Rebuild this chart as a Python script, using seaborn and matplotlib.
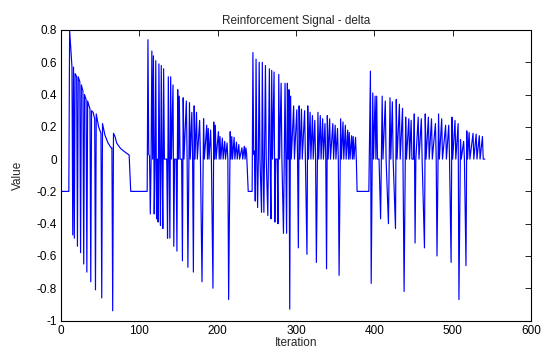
import matplotlib
matplotlib.use("Agg")
import matplotlib.pyplot as plt
import seaborn as sns
import pandas as pd

# ---- data: (iteration, delta) vertices per learning episode ----
episode1 = [(0, -0.2), (10, -0.2), (11, 0.80), (14, 0.57), (15, -0.47), (16, 0.57), (17, -0.49),
            (18, 0.53), (20, 0.51), (21, -0.54), (22, 0.51), (24, 0.48), (25, -0.58), (26, 0.46),
            (28, 0.42), (29, -0.65), (30, 0.40), (32, 0.37), (33, -0.70), (34, 0.36), (37, 0.31),
            (38, -0.76), (39, 0.30), (41, 0.29), (43, 0.25), (44, -0.81), (45, 0.28), (48, 0.20),
            (51, 0.16), (52, -0.86), (53, 0.22), (56, 0.15), (60, 0.10), (64, 0.07), (65, 0.07),
            (66, -0.94), (67, 0.16), (69, 0.14), (71, 0.10), (76, 0.066), (80, 0.05), (87, 0.025),
            (89, -0.2)]

episode2 = [(110, -0.2), (111, 0.74), (112, 0.03), (113, 0.02), (114, -0.34), (115, 0.0),
            (116, 0.67), (117, 0.0), (118, 0.64), (119, -0.34), (120, 0.0), (121, 0.61),
            (122, -0.37), (123, 0.0), (124, -0.39), (125, 0.59), (126, 0.0), (127, -0.41),
            (128, 0.58), (129, 0.0), (130, -0.43), (131, 0.56), (132, 0.0), (135, 0.0),
            (136, -0.49), (137, 0.51), (138, 0.0), (139, -0.49), (140, 0.51), (141, 0.0),
            (143, 0.46), (144, -0.54), (145, 0.0), (147, 0.0), (148, -0.57), (149, 0.43),
            (150, 0.0), (151, 0.39), (152, 0.0), (154, 0.0), (155, -0.63), (156, 0.38),
            (157, 0.0), (160, 0.36), (161, 0.0), (162, -0.67), (164, 0.35), (165, 0.0),
            (167, 0.29), (168, 0.0), (169, -0.70), (170, 0.33), (171, 0.0), (173, 0.29),
            (174, 0.0), (177, 0.24), (178, 0.0), (180, -0.76), (182, 0.25), (183, 0.0),
            (186, 0.21), (187, 0.0), (188, 0.19), (189, 0.0), (191, 0.18), (192, 0.0),
            (194, -0.80), (195, 0.23), (196, 0.0), (197, 0.21), (198, 0.0), (201, 0.17),
            (202, 0.0), (203, 0.14), (204, 0.0), (206, 0.13), (207, 0.0), (209, 0.11),
            (210, 0.0), (212, 0.10), (213, 0.0), (214, -0.87), (216, 0.17), (217, 0.0),
            (218, 0.14), (219, 0.0), (221, 0.135), (222, 0.0), (224, 0.105), (225, 0.0),
            (227, 0.09), (228, 0.0), (231, 0.07), (232, 0.0), (234, 0.08), (235, 0.0),
            (236, 0.07), (237, 0.03), (239, -0.2)]

episode3 = [(244, -0.2), (245, 0.66), (246, 0.03), (247, 0.05), (248, -0.26), (249, 0.62),
            (250, 0.0), (251, -0.30), (252, 0.03), (253, 0.60), (254, 0.0), (256, -0.33),
            (257, 0.60), (258, 0.0), (259, -0.33), (261, 0.58), (262, 0.0), (264, -0.35),
            (266, 0.56), (267, 0.0), (268, -0.37), (269, 0.55), (270, 0.0), (272, 0.54),
            (273, -0.39), (274, 0.0), (276, 0.0), (277, -0.40), (278, 0.525), (279, 0.0),
            (281, 0.47), (282, 0.0), (284, -0.46), (285, 0.0), (286, 0.47), (287, 0.0),
            (288, -0.46), (289, 0.47), (290, 0.0), (291, 0.43), (292, -0.93), (293, 0.39),
            (294, 0.0), (297, 0.33), (298, 0.0), (301, 0.305), (302, 0.0), (303, -0.55),
            (304, 0.33), (305, 0.0), (307, 0.31), (308, 0.0), (311, 0.30), (312, 0.0),
            (314, -0.59), (315, 0.33), (316, 0.0), (318, 0.29), (319, 0.0), (321, 0.27),
            (322, 0.0), (324, 0.24), (325, 0.0), (326, -0.64), (328, 0.29), (329, 0.0),
            (331, 0.27), (332, 0.0), (334, 0.25), (335, 0.0), (337, 0.22), (338, 0.0),
            (339, -0.68), (340, 0.27), (341, 0.0), (343, 0.25), (344, 0.0), (347, 0.22),
            (348, 0.0), (350, 0.21), (351, 0.0), (353, 0.19), (354, 0.0), (355, -0.72),
            (357, 0.25), (358, 0.0), (360, 0.23), (361, 0.0), (363, 0.21), (364, 0.0),
            (366, 0.18), (367, 0.0), (368, 0.165), (369, 0.0), (371, 0.145), (372, 0.0),
            (373, 0.14), (374, 0.0), (376, 0.135), (377, 0.0), (378, -0.2)]

episode4 = [(393, -0.2), (395, 0.545), (396, -0.77), (398, 0.41), (399, 0.0), (401, 0.39),
            (402, 0.0), (403, 0.39), (404, 0.0), (406, 0.0), (408, -0.37), (410, 0.39),
            (411, 0.0), (414, 0.36), (415, 0.0), (418, -0.40), (420, 0.38), (421, 0.0),
            (423, 0.355), (424, 0.0), (427, -0.43), (428, 0.37), (429, 0.0), (432, 0.34),
            (433, 0.0), (436, 0.315), (438, -0.82), (440, 0.26), (441, 0.0), (444, 0.25),
            (445, 0.0), (447, 0.24), (448, 0.0), (450, 0.0), (451, 0.28), (452, -0.52),
            (453, 0.0), (456, 0.26), (457, 0.0), (460, 0.25), (461, 0.0), (464, -0.55),
            (465, 0.28), (466, 0.0), (469, 0.26), (470, 0.0), (473, 0.25), (474, 0.0),
            (478, 0.22), (479, 0.0), (480, -0.60), (482, 0.28), (483, 0.0), (486, 0.25),
            (487, 0.0), (491, 0.21), (492, 0.0), (495, 0.21), (496, 0.0), (498, -0.64),
            (499, 0.26), (500, 0.0), (503, 0.24), (504, 0.0), (507, 0.22), (508, -0.87),
            (510, 0.12), (511, 0.0), (514, 0.11), (515, 0.0), (517, -0.66), (518, 0.175),
            (519, 0.0), (521, 0.165), (522, 0.0), (526, 0.16), (527, 0.0), (530, 0.155),
            (531, 0.0), (534, 0.145), (535, 0.0), (538, 0.14), (539, 0.0), (541, 0.0)]

x_ticks = [0, 100, 200, 300, 400, 500, 600]
x_tick_labels = ["0", "100", "200", "300", "400", "500", "600"]
y_ticks = [-1, -0.8, -0.6, -0.4, -0.2, 0, 0.2, 0.4, 0.6, 0.8]
y_tick_labels = ["-1", "-0.8", "-0.6", "-0.4", "-0.2", "0", "0.2", "0.4", "0.6", "0.8"]

title_text = "Reinforcement Signal - delta"
x_label = "Iteration"
y_label = "Value"

# ---- build table ----
rows = episode1 + episode2 + episode3 + episode4
df = pd.DataFrame(rows, columns=["Iteration", "Value"])

sns.set_style("white")
plt.rcParams["font.family"] = ["Liberation Sans", "DejaVu Sans"]

fig = plt.figure(figsize=(5.45, 3.5), dpi=100)
ax = fig.add_axes([61 / 545, 1 - 320.5 / 350, 470 / 545, 290.5 / 350])

sns.lineplot(data=df, x="Iteration", y="Value", ax=ax, color="#0000ff",
             linewidth=0.85, estimator=None, sort=False)

ax.set_xlim(0, 600)
ax.set_ylim(-1, 0.8)
ax.set_xticks(x_ticks)
ax.set_xticklabels(x_tick_labels)
ax.set_yticks(y_ticks)
ax.set_yticklabels(y_tick_labels)

ax.tick_params(direction="in", top=True, right=True, length=4, width=0.6,
               labelsize=8.5, colors="black", pad=3)
for s in ax.spines.values():
    s.set_visible(True)
    s.set_color("black")
    s.set_linewidth(0.8)

ax.set_title(title_text, fontsize=8.5, pad=4)
ax.set_xlabel(x_label, fontsize=8.5, labelpad=0)
ax.set_ylabel(y_label, fontsize=8.5, labelpad=9)

fig.savefig("out.png", dpi=100, facecolor="white")
